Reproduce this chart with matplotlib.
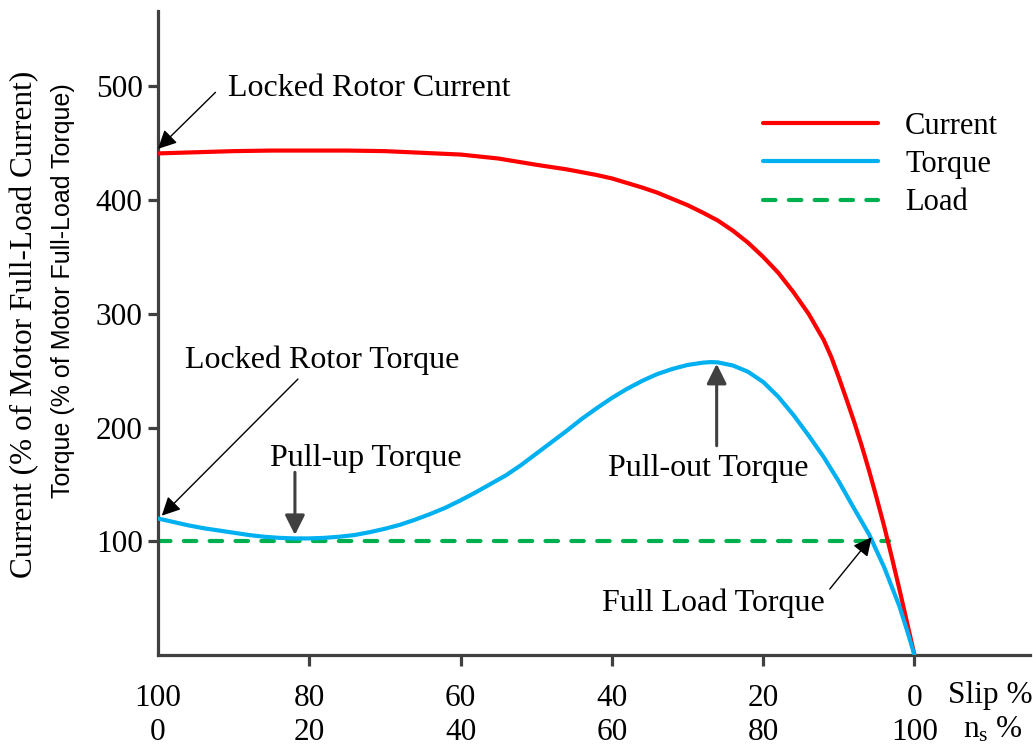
import matplotlib
matplotlib.use('Agg')
import matplotlib.pyplot as plt

# ---------------- data ----------------
slip_current = [100, 95, 90, 85, 80, 75, 70, 65, 60, 55, 50, 46, 42, 40, 38, 36, 34, 32, 30, 28, 26, 24,
                22, 20, 18, 16, 14, 12, 11, 10, 9, 8, 7, 6, 5, 4, 3, 2, 1, 0]
current = [441, 442, 443, 443.5, 443.5, 443.5, 443, 441.5, 440, 436.5, 431, 427, 422, 419, 415, 411, 406.5,
           401, 395.5, 389, 382, 373, 362.5, 350, 336, 319, 300, 277, 262, 244, 225, 205.5, 184.5, 162, 138,
           113, 86, 58, 29, 0]

slip_torque = [100, 98, 96, 94, 92, 90, 88, 86, 84, 82, 80, 78, 76, 74, 72, 70, 68, 66, 64, 62, 60, 58, 56,
               54, 52, 50, 48, 46, 44, 42, 40, 38, 36, 34, 32, 30, 28, 27, 26, 24, 22, 20, 18, 16, 14, 12, 10,
               8, 6, 4, 2, 1, 0]
torque = [120, 117, 114, 111.5, 109.5, 107.5, 105.5, 104, 103, 102.5, 102.5, 103, 104, 105.5, 108, 111, 114.5,
          119, 124, 129.5, 136, 143, 150.5, 158, 167, 177, 187, 197, 207.5, 217, 226, 234, 241, 247, 251.5, 255,
          257, 257.5, 257.3, 254.5, 249, 240, 227, 211, 193, 174, 152.5, 129, 106, 77, 43, 22, 0]

slip_load = [100, 3.4]
load = [100, 100]

slip_ticks = [100, 80, 60, 40, 20, 0]
speed_ticks = [0, 20, 40, 60, 80, 100]
y_ticks = [100, 200, 300, 400, 500]

series_labels = ['Current', 'Torque', 'Load']

# ---------------- style ----------------
plt.rcParams['font.family'] = ['Liberation Serif', 'DejaVu Serif']
plt.rcParams['mathtext.fontset'] = 'custom'
plt.rcParams['mathtext.rm'] = 'Liberation Serif'
plt.rcParams['mathtext.it'] = 'Liberation Serif:italic'

RED = '#FF0000'
BLUE = '#00B0F0'
GREEN = '#00B050'
AX = '#404040'

W, H = 1033, 746
fig = plt.figure(figsize=(W / 100, H / 100), dpi=100)
ax = fig.add_axes([158 / W, 1 - 655 / H, (1030 - 158) / W, (655 - 11) / H])

ax.plot(slip_current, current, color=RED, lw=3, label=series_labels[0], solid_capstyle='round',
        solid_joinstyle='round', zorder=3)
ax.plot(slip_torque, torque, color=BLUE, lw=3, label=series_labels[1], solid_capstyle='round',
        solid_joinstyle='round', zorder=3)
ax.plot(slip_load, load, color=GREEN, lw=3, ls=(0, (3.0, 3.2)), dash_capstyle='round',
        label=series_labels[2], zorder=2)

ax.set_xlim(100, -15.27)
ax.set_ylim(0, 566.2)

for s in ['top', 'right']:
    ax.spines[s].set_visible(False)
for s in ['left', 'bottom']:
    ax.spines[s].set_color(AX)
    ax.spines[s].set_linewidth(2.3)

ax.set_yticks(y_ticks)
ax.set_yticklabels([str(v) for v in y_ticks])
ax.tick_params(axis='y', direction='out', length=7, width=2.3, color=AX, pad=4, labelsize=22.5)

ax.set_xticks(slip_ticks)
ax.set_xticklabels([f"{s}\n{n}" for s, n in zip(slip_ticks, speed_ticks)])
ax.tick_params(axis='x', direction='out', length=8, width=2.3, color=AX, pad=13, labelsize=22.5)
for lbl in ax.get_xticklabels():
    lbl.set_linespacing(1.22)
ax.xaxis.get_major_ticks()[0].tick1line.set_visible(False)

# axis unit captions
fig.text(948 / W, 1 - 703 / H, 'Slip %', fontsize=22.5, ha='left', va='baseline')
fig.text(963 / W, 1 - 737 / H, r'n$_{\mathrm{s}}$ %', fontsize=22.5, ha='left', va='baseline')

# y-axis labels (two lines, two fonts)
fig.text(25 / W, 1 - 324 / H, 'Current (% of Motor Full-Load Current)', rotation=90,
         fontsize=22.5, ha='center', va='center')
fig.text(63 / W, 1 - 291 / H, 'Torque (% of Motor Full-Load Torque)', rotation=90,
         fontsize=18, ha='center', va='center', family=['Liberation Sans', 'DejaVu Sans'])

# legend
leg = ax.legend(loc='upper left', bbox_to_anchor=(763 / W, 1 - 112 / H), bbox_transform=fig.transFigure,
                frameon=False, fontsize=22, handlelength=3.75, handletextpad=0.9,
                labelspacing=0.3, borderpad=0, borderaxespad=0)

# annotations
thin = dict(arrowstyle='-|>', lw=1.0, color='black', mutation_scale=28, shrinkA=0, shrinkB=0)
thick = dict(arrowstyle='-|>', lw=2.2, color=AX, mutation_scale=30, shrinkA=0, shrinkB=0)

ax.annotate('', xy=(100, current[0] + 4), xytext=(92.4, 494.7), arrowprops=thin, annotation_clip=False)
ax.text(90.7, 491.7, 'Locked Rotor Current', fontsize=23, ha='left', va='baseline')

ax.annotate('', xy=(99.5, 122.5), xytext=(81.5, 242.6), arrowprops=thin, annotation_clip=False)
ax.text(96.4, 252, 'Locked Rotor Torque', fontsize=23, ha='left', va='baseline')

ax.annotate('', xy=(81.9, 105.5), xytext=(81.9, 160.6), arrowprops=thick)
ax.text(85.2, 166, 'Pull-up Torque', fontsize=23, ha='left', va='baseline')

ax.annotate('', xy=(26.15, 256), xytext=(26.15, 184), arrowprops=thick)
ax.text(40.5, 157.6, 'Pull-out Torque', fontsize=23, ha='left', va='baseline')

ax.annotate('', xy=(5.66, 103.5), xytext=(11.2, 58), arrowprops=thin)
ax.text(41.35, 38.9, 'Full Load Torque', fontsize=23, ha='left', va='baseline')

fig.savefig('out.png', dpi=100)
